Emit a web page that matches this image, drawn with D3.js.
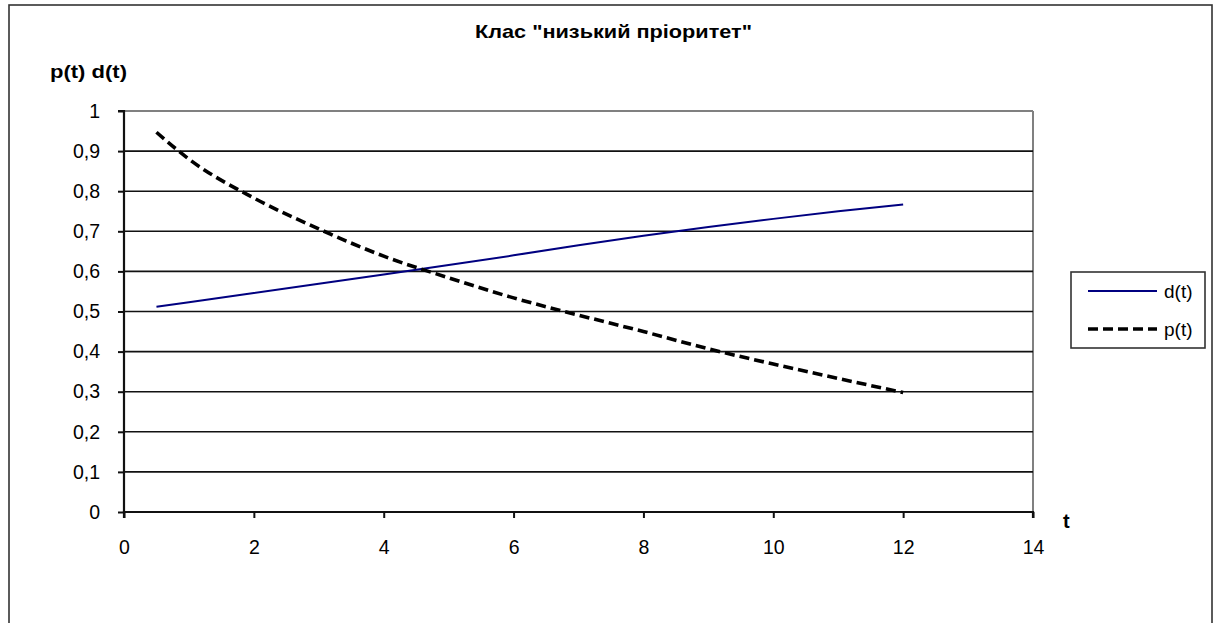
<!DOCTYPE html>
<html>
<head>
<meta charset="utf-8">
<script src="https://cdn.jsdelivr.net/npm/d3@7"></script>
<style>
html,body{margin:0;padding:0;background:#fff;}
svg{display:block;font-family:"Liberation Sans",Arial,sans-serif;}
</style>
</head>
<body>
<svg id="chart" width="1215" height="623"></svg>
<script>
const title = 'Клас "низький пріоритет"';
const yLabel = "p(t) d(t)";
const xLabel = "t";
const tValues = [0.5, 1, 2, 3, 4, 5, 6, 7, 8, 9, 10, 11, 12];
const dValues = [0.512, 0.523, 0.546, 0.569, 0.592, 0.616, 0.640, 0.665, 0.689, 0.711, 0.731, 0.750, 0.767];
const pValues = [0.947, 0.880, 0.783, 0.706, 0.638, 0.584, 0.534, 0.491, 0.450, 0.407, 0.369, 0.333, 0.298];
const xTicks = [0, 2, 4, 6, 8, 10, 12, 14];
const yTicks = [0, 0.1, 0.2, 0.3, 0.4, 0.5, 0.6, 0.7, 0.8, 0.9, 1];
const seriesNames = ["d(t)", "p(t)"];

const svg = d3.select("#chart");
const x = d3.scaleLinear().domain([0, 14]).range([124, 1033]);
const y = d3.scaleLinear().domain([0, 1]).range([512, 111]);
const fmt = v => String(v).replace(".", ",");

// outer border
svg.append("rect").attr("x", 9).attr("y", 5).attr("width", 1203).attr("height", 640)
  .attr("fill", "none").attr("stroke", "#333").attr("stroke-width", 1.6);

// title
svg.append("text").attr("x", 475).attr("y", 38)
  .attr("font-weight", "bold").attr("font-size", 18.5)
  .attr("textLength", 277).attr("lengthAdjust", "spacingAndGlyphs").text(title);
// y label
svg.append("text").attr("x", 50).attr("y", 78).attr("font-weight", "bold")
  .attr("font-size", 19).attr("textLength", 77).attr("lengthAdjust", "spacingAndGlyphs").text(yLabel);
// x label
svg.append("text").attr("x", 1063).attr("y", 528).attr("font-weight", "bold")
  .attr("font-size", 20).text(xLabel);

// plot border top/right grey
svg.append("line").attr("x1", x(0)).attr("x2", x(14)).attr("y1", y(1)).attr("y2", y(1))
  .attr("stroke", "#808080").attr("stroke-width", 2);
svg.append("line").attr("x1", x(14)).attr("x2", x(14)).attr("y1", y(1)).attr("y2", y(0))
  .attr("stroke", "#808080").attr("stroke-width", 2);

// gridlines
svg.append("g").selectAll("line").data(yTicks.filter(v => v > 0 && v < 1)).join("line")
  .attr("x1", x(0)).attr("x2", x(14)).attr("y1", d => y(d)).attr("y2", d => y(d))
  .attr("stroke", "#111").attr("stroke-width", 1.6);

// axes
const yAxis = svg.append("g").attr("transform", `translate(${x(0)},0)`)
  .call(d3.axisLeft(y).tickValues(yTicks).tickSize(6).tickPadding(18).tickFormat(fmt));
const xAxis = svg.append("g").attr("transform", `translate(0,${y(0)})`)
  .call(d3.axisBottom(x).tickValues(xTicks).tickSize(6).tickPadding(22).tickFormat(fmt));
[yAxis, xAxis].forEach(a => {
  a.select(".domain").attr("stroke", "#111").attr("stroke-width", 2.2);
  a.selectAll(".tick line").attr("stroke", "#111").attr("stroke-width", 2);
  a.selectAll(".tick text").attr("font-size", 19.5).attr("fill", "#000")
    .attr("font-family", '"Liberation Sans",Arial,sans-serif');
});
yAxis.select(".domain").attr("d", `M-6,${y(1)}H0V${y(0)}`);
xAxis.select(".domain").attr("d", `M${x(0)},6V0H${x(14)}V6`);

// series
const line = d3.line().x(d => x(d[0])).y(d => y(d[1]));
svg.append("path").datum(tValues.map((t, i) => [t, dValues[i]]))
  .attr("d", line).attr("fill", "none").attr("stroke", "#000080").attr("stroke-width", 2);
svg.append("path").datum(tValues.map((t, i) => [t, pValues[i]]))
  .attr("d", line.curve(d3.curveMonotoneX)).attr("fill", "none").attr("stroke", "#000")
  .attr("stroke-width", 3.6).attr("stroke-dasharray", "10,5");

// legend
const lg = svg.append("g");
lg.append("rect").attr("x", 1071).attr("y", 272).attr("width", 134).attr("height", 76)
  .attr("fill", "#fff").attr("stroke", "#333").attr("stroke-width", 1.6);
const styles = [{stroke: "#000080", w: 2, dash: null}, {stroke: "#000", w: 3.6, dash: "10,5"}];
seriesNames.forEach((n, i) => {
  const ly = 291 + i * 38;
  lg.append("line").attr("x1", 1088).attr("x2", 1157).attr("y1", ly).attr("y2", ly)
    .attr("stroke", styles[i].stroke).attr("stroke-width", styles[i].w)
    .attr("stroke-dasharray", styles[i].dash);
  lg.append("text").attr("x", 1164).attr("y", ly + 7).attr("font-size", 19).text(n);
});
</script>
</body>
</html>
